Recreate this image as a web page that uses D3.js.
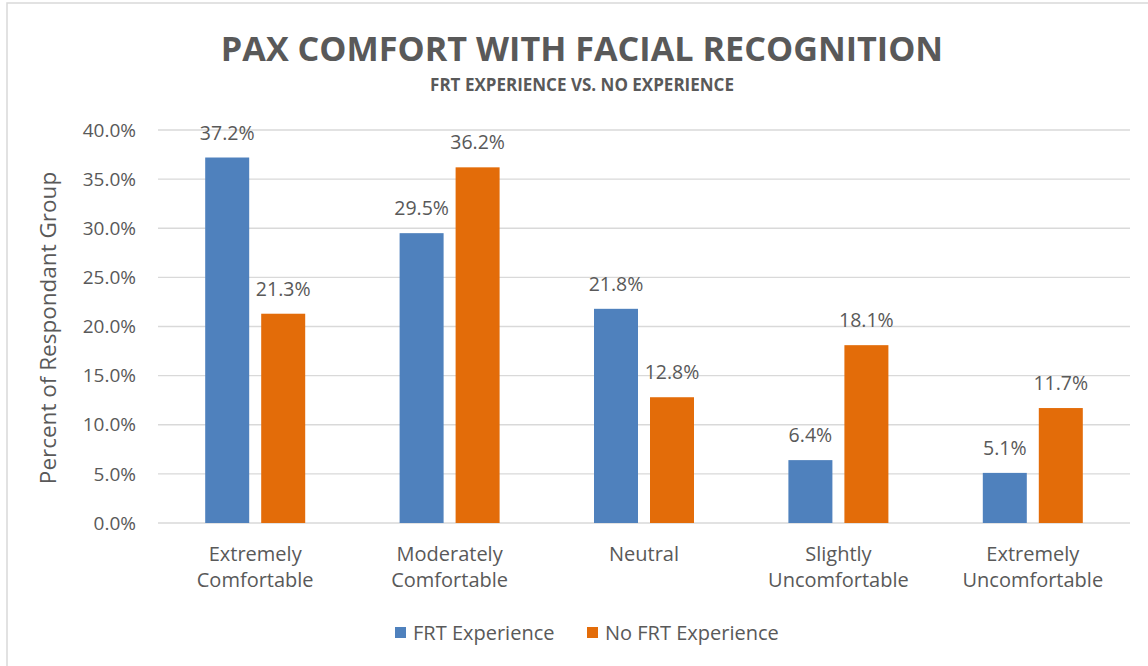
<!DOCTYPE html>
<html>
<head>
<meta charset="utf-8">
<script src="https://cdn.jsdelivr.net/npm/d3@7"></script>
<style>
  body { margin: 0; background: #fff; }
  svg text { font-family: "Open Sans", Lato, sans-serif; fill: #595959; }
</style>
</head>
<body>
<div id="container"></div>
<script>
var categories = [
  ["Extremely", "Comfortable"],
  ["Moderately", "Comfortable"],
  ["Neutral"],
  ["Slightly", "Uncomfortable"],
  ["Extremely", "Uncomfortable"]
];
var seriesNames = ["FRT Experience", "No FRT Experience"];
var frtExperience = [37.2, 29.5, 21.8, 6.4, 5.1];
var noFrtExperience = [21.3, 36.2, 12.8, 18.1, 11.7];
var yTicks = [0, 5, 10, 15, 20, 25, 30, 35, 40];

var colors = ["#4F81BD", "#E36C09"];
var W = 1148, H = 666;
var plot = { left: 158, right: 1130, top: 130, bottom: 523 };

var svg = d3.select("#container").append("svg")
  .attr("width", W).attr("height", H);

// chart border (cropped on right/bottom)
svg.append("rect")
  .attr("x", 7).attr("y", 3)
  .attr("width", W + 10).attr("height", H + 10)
  .attr("fill", "none").attr("stroke", "#D9D9D9").attr("stroke-width", 1.5);

var catIdx = categories.map(function (d, i) { return i; });
var x0 = d3.scaleBand().domain(catIdx).range([plot.left, plot.right]);
var bw = x0.bandwidth();
var x1 = d3.scaleBand().domain(seriesNames)
  .range([bw / 2 - 50, bw / 2 + 50]).paddingInner(12 / 56);
var y = d3.scaleLinear().domain([0, 40]).range([plot.bottom, plot.top]);

// gridlines
svg.append("g").selectAll("line")
  .data(yTicks).enter().append("line")
  .attr("x1", plot.left).attr("x2", plot.right)
  .attr("y1", function (d) { return y(d); })
  .attr("y2", function (d) { return y(d); })
  .attr("stroke", "#D9D9D9").attr("stroke-width", 1.3);

// y tick labels
svg.append("g").selectAll("text")
  .data(yTicks).enter().append("text")
  .attr("x", 136)
  .attr("y", function (d) { return y(d); })
  .attr("dy", "0.35em")
  .attr("text-anchor", "end")
  .style("font-size", "19px")
  .text(function (d) { return d3.format(".1f")(d) + "%"; });

// y axis title
svg.append("text")
  .attr("transform", "translate(56,328) rotate(-90)")
  .attr("text-anchor", "middle")
  .style("font-size", "22.5px")
  .text("Percent of Respondant Group");

var rows = catIdx.map(function (i) {
  return { i: i, values: [frtExperience[i], noFrtExperience[i]] };
});

var groups = svg.append("g").selectAll("g")
  .data(rows).enter().append("g")
  .attr("transform", function (d) { return "translate(" + x0(d.i) + ",0)"; });

groups.selectAll("rect")
  .data(function (d) { return d.values.map(function (v, k) { return { k: k, v: v }; }); })
  .enter().append("rect")
  .attr("x", function (d) { return x1(seriesNames[d.k]); })
  .attr("width", x1.bandwidth())
  .attr("y", function (d) { return y(d.v); })
  .attr("height", function (d) { return y(0) - y(d.v); })
  .attr("fill", function (d) { return colors[d.k]; });

groups.selectAll("text.val")
  .data(function (d) { return d.values.map(function (v, k) { return { k: k, v: v }; }); })
  .enter().append("text")
  .attr("class", "val")
  .attr("x", function (d) { return x1(seriesNames[d.k]) + x1.bandwidth() / 2; })
  .attr("y", function (d) { return y(d.v) - 18; })
  .attr("text-anchor", "middle")
  .style("font-size", "19.5px")
  .text(function (d) { return d.v.toFixed(1) + "%"; });

// category labels
svg.append("g").selectAll("text")
  .data(rows).enter().append("text")
  .attr("x", function (d) { return x0(d.i) + bw / 2; })
  .attr("y", 561)
  .attr("text-anchor", "middle")
  .style("font-size", "20px")
  .each(function (d) {
    var t = d3.select(this);
    categories[d.i].forEach(function (line, j) {
      t.append("tspan")
        .attr("x", x0(d.i) + bw / 2)
        .attr("dy", j === 0 ? 0 : 26)
        .text(line);
    });
  });

// title
svg.append("text")
  .attr("x", 582).attr("y", 61)
  .attr("text-anchor", "middle")
  .style("font-size", "34.2px").style("font-weight", "bold")
  .text("PAX COMFORT WITH FACIAL RECOGNITION");
svg.append("text")
  .attr("x", 582).attr("y", 91)
  .attr("text-anchor", "middle")
  .style("font-size", "17px").style("font-weight", "bold")
  .text("FRT EXPERIENCE VS. NO EXPERIENCE");

// legend
var legendX = [395, 587];
var legend = svg.append("g").selectAll("g")
  .data(seriesNames).enter().append("g")
  .attr("transform", function (d, i) { return "translate(" + legendX[i] + ",627)"; });
legend.append("rect")
  .attr("width", 11).attr("height", 11)
  .attr("fill", function (d, i) { return colors[i]; });
legend.append("text")
  .attr("x", 18).attr("y", 6).attr("dy", "0.35em")
  .style("font-size", "20px")
  .text(function (d) { return d; });
</script>
</body>
</html>
